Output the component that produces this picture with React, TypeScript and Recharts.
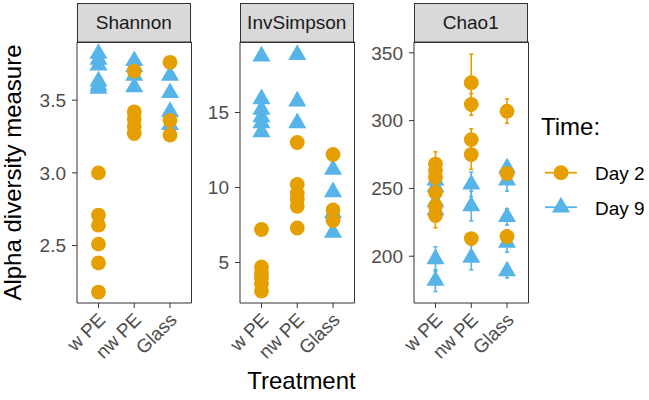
import React from 'react';
import { ScatterChart, Scatter, XAxis, YAxis, ErrorBar, ReferenceArea } from 'recharts';

const treatments = ['w PE', 'nw PE', 'Glass'];
const times = ['Day 2', 'Day 9'];

const shannonDay2 = [[3.0, 2.71, 2.64, 2.51, 2.38, 2.18], [3.7, 3.42, 3.37, 3.32, 3.27], [3.76, 3.36, 3.26]];
const shannonDay9 = [[3.82, 3.78, 3.74, 3.63, 3.6, 3.58], [3.77, 3.73, 3.67, 3.59], [3.67, 3.55, 3.42, 3.33]];

const invSimpsonDay2 = [[7.2, 4.7, 4.3, 4.0, 3.6, 3.1], [13.0, 10.2, 9.6, 9.2, 8.75, 7.3], [12.2, 8.5, 7.8]];
const invSimpsonDay9 = [[18.75, 15.9, 15.2, 14.7, 14.3, 13.7], [18.85, 15.75, 14.3], [11.2, 9.7, 8.3, 7.0]];

const chao1Day2 = [[268, 263, 258, 247, 237, 230], [328, 312, 286, 275, 213], [307, 261, 214.5]];
const chao1Day2Se = [[9, 8, 8, 9, 8, 9], [21, 8, 8, 11, 4], [9, 5, 5]];
const chao1Day9 = [[256, 251, 240, 234, 198, 182], [253, 237, 199], [265, 256, 229, 210, 189]];
const chao1Day9Se = [[8, 7, 8, 7, 9, 8], [9, 11, 9], [5, 8, 6, 7, 5]];

const shannonTicks = [2.5, 3.0, 3.5];
const invSimpsonTicks = [5, 10, 15];
const chao1Ticks = [200, 250, 300, 350];

const ORANGE = '#E69F00';
const BLUE = '#56B4E9';
const FONT = '"Liberation Sans", Arial, Helvetica, sans-serif';

const PANEL_TOP = 42;
const PANEL_BOTTOM = 303;
const PANEL_W = 114.5;
const YAXIS_W = 60;
const RIGHT_M = 10;

type Pt = { x: number; y: number; se: number };

function toPoints(groups: number[][], se?: number[][]): Pt[] {
  const out: Pt[] = [];
  groups.forEach((vals, i) => {
    vals.forEach((v, j) => {
      out.push({ x: i + 1, y: v, se: se ? se[i][j] : 0 });
    });
  });
  return out;
}

const Circle = (props: any) => {
  const { cx, cy } = props;
  if (cx == null || cy == null) return null;
  return <circle cx={cx} cy={cy} r={7.4} fill={ORANGE} />;
};

const triPoints = (cx: number, cy: number) => {
  const s = 6.7;
  const r = 1.5551 * s;
  const xc = 1.3468 * s;
  const yc = 0.7776 * s;
  return `${cx},${cy - r} ${cx + xc},${cy + yc} ${cx - xc},${cy + yc}`;
};

const Triangle = (props: any) => {
  const { cx, cy } = props;
  if (cx == null || cy == null) return null;
  return <polygon points={triPoints(cx, cy)} fill={BLUE} />;
};

const XTick = (props: any) => {
  const { x, y, payload } = props;
  const label = treatments[Math.round(payload.value) - 1];
  const ax = x + 8;
  const ay = y + 13;
  return (
    <text
      x={ax}
      y={ay}
      transform={`rotate(-45 ${ax} ${ay})`}
      textAnchor="end"
      fontSize={19}
      fill="#4D4D4D"
      fontFamily={FONT}
    >
      {label}
    </text>
  );
};

type FacetProps = {
  title: string;
  panelLeft: number;
  domain: [number, number];
  ticks: number[];
  fmt: (v: number) => string;
  day2: Pt[];
  day9: Pt[];
  errors?: boolean;
};

const Facet = ({ title, panelLeft, domain, ticks, fmt, day2, day9, errors }: FacetProps) => {
  const width = YAXIS_W + PANEL_W + RIGHT_M;
  return (
    <>
      <div
        style={{
          position: 'absolute',
          left: panelLeft,
          top: 2.5,
          width: PANEL_W,
          height: PANEL_TOP - 2.5 + 0.5,
          boxSizing: 'border-box',
          background: '#D9D9D9',
          border: '1px solid #333333',
          display: 'flex',
          alignItems: 'center',
          justifyContent: 'center',
          fontFamily: FONT,
          fontSize: 19,
          color: '#1A1A1A',
        }}
      >
        {title}
      </div>
      <div style={{ position: 'absolute', left: panelLeft - YAXIS_W, top: 0 }}>
        <ScatterChart
          width={width}
          height={400}
          margin={{ top: PANEL_TOP, right: RIGHT_M, bottom: 0, left: 0 }}
        >
          <XAxis
            type="number"
            dataKey="x"
            domain={[0.4, 3.6]}
            ticks={[1, 2, 3]}
            interval={0}
            allowDataOverflow
            axisLine={false}
            tickLine={{ stroke: '#333333', strokeWidth: 1 }}
            tickSize={5}
            tickMargin={0}
            height={400 - PANEL_BOTTOM}
            tick={<XTick />}
          />
          <YAxis
            type="number"
            dataKey="y"
            domain={domain}
            ticks={ticks}
            interval={0}
            allowDataOverflow
            axisLine={false}
            tickLine={{ stroke: '#333333', strokeWidth: 1 }}
            tickSize={5}
            tickMargin={6}
            width={YAXIS_W}
            tickFormatter={fmt}
            tick={{ fontSize: 19, fill: '#4D4D4D', fontFamily: FONT }}
          />
          <ReferenceArea
            x1={0.4}
            x2={3.6}
            y1={domain[0]}
            y2={domain[1]}
            fill="none"
            fillOpacity={0}
            stroke="#333333"
            strokeWidth={1}
            ifOverflow="visible"
          />
          <Scatter name={times[1]} data={day9} shape={<Triangle />} isAnimationActive={false}>
            {errors && (
              <ErrorBar dataKey="se" direction="y" width={2} stroke={BLUE} strokeWidth={1.6} isAnimationActive={false} />
            )}
          </Scatter>
          <Scatter name={times[0]} data={day2} shape={<Circle />} isAnimationActive={false}>
            {errors && (
              <ErrorBar dataKey="se" direction="y" width={2} stroke={ORANGE} strokeWidth={1.6} isAnimationActive={false} />
            )}
          </Scatter>
        </ScatterChart>
      </div>
    </>
  );
};

const legendItems = [
  { label: times[0], color: ORANGE, shape: 'circle' },
  { label: times[1], color: BLUE, shape: 'triangle' },
];

export default function App() {
  return (
    <div style={{ position: 'absolute', left: 0, top: 0, width: 649, height: 400, background: '#fff', overflow: 'hidden' }}>
      <Facet
        title="Shannon"
        panelLeft={76.5}
        domain={[2.105, 3.9]}
        ticks={shannonTicks}
        fmt={(v) => v.toFixed(1)}
        day2={toPoints(shannonDay2)}
        day9={toPoints(shannonDay9)}
      />
      <Facet
        title="InvSimpson"
        panelLeft={239.5}
        domain={[2.3, 19.7]}
        ticks={invSimpsonTicks}
        fmt={(v) => String(v)}
        day2={toPoints(invSimpsonDay2)}
        day9={toPoints(invSimpsonDay9)}
      />
      <Facet
        title="Chao1"
        panelLeft={413.5}
        domain={[165.5, 358]}
        ticks={chao1Ticks}
        fmt={(v) => String(v)}
        day2={toPoints(chao1Day2, chao1Day2Se)}
        day9={toPoints(chao1Day9, chao1Day9Se)}
        errors
      />
      <svg
        width={649}
        height={400}
        style={{ position: 'absolute', left: 0, top: 0, pointerEvents: 'none' }}
        fontFamily={FONT}
      >
        <text x={21} y={172.5} transform="rotate(-90 21 172.5)" textAnchor="middle" fontSize={24} fill="#000">
          Alpha diversity measure
        </text>
        <text x={301.5} y={389} textAnchor="middle" fontSize={24} fill="#000">
          Treatment
        </text>
        <text x={541} y={135} fontSize={24} fill="#000">
          Time:
        </text>
        {legendItems.map((it, i) => {
          const cy = 172.7 + i * 34.5;
          return (
            <g key={it.label}>
              <line x1={545} x2={577} y1={cy} y2={cy} stroke={it.color} strokeWidth={1.8} />
              {it.shape === 'circle' ? (
                <circle cx={561} cy={cy} r={7.4} fill={it.color} />
              ) : (
                <polygon points={triPoints(561, cy)} fill={it.color} />
              )}
              <text x={595} y={cy + 7.3} fontSize={19} fill="#000">
                {it.label}
              </text>
            </g>
          );
        })}
      </svg>
    </div>
  );
}
